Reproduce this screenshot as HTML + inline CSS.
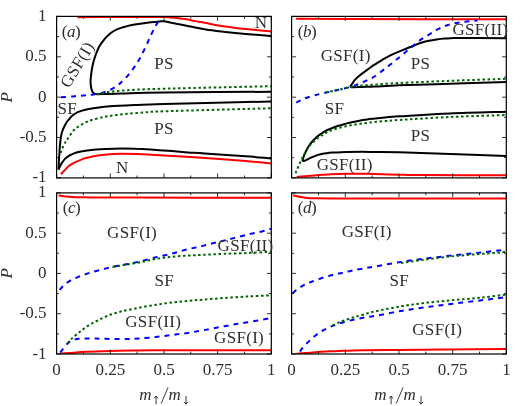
<!DOCTYPE html>
<html><head><meta charset="utf-8"><title>Phase diagrams</title>
<style>
html,body{margin:0;padding:0;background:#fff;}
body{width:528px;height:406px;overflow:hidden;}
svg{display:block;will-change:transform;}
text{font-family:"Liberation Serif",serif;fill:#2e2e2e;}
.t{font-size:17px;}
.l{font-size:17px;letter-spacing:0.3px;}
.i{font-style:italic;}
</style></head><body>
<svg width="528" height="406" viewBox="0 0 528 406">
<rect width="528" height="406" fill="#fff"/>
<defs>
<clipPath id="cpa"><rect x="56.6" y="16.4" width="214.7" height="161.5"/></clipPath>
<clipPath id="cpb"><rect x="291.6" y="16.4" width="214.7" height="161.5"/></clipPath>
<clipPath id="cpc"><rect x="56.6" y="192.9" width="214.7" height="161.1"/></clipPath>
<clipPath id="cpd"><rect x="291.6" y="192.9" width="214.7" height="161.1"/></clipPath>
</defs>
<g clip-path="url(#cpa)" fill="none" stroke-width="2.0" stroke-linejoin="round">
<path d="M77.5 17.2C84.6 17.2 107.9 17.0 120.0 17.0C132.1 17.0 142.7 17.0 150.0 17.0C157.3 17.0 160.7 17.0 164.0 17.1C167.3 17.2 168.2 17.3 170.0 17.4C171.8 17.5 172.1 17.5 174.5 17.8C176.9 18.1 181.6 18.7 184.5 19.1C187.4 19.5 189.6 19.9 192.0 20.4C194.4 20.8 196.7 21.4 199.0 21.8C201.3 22.2 203.3 22.6 206.0 23.1C208.7 23.6 211.9 24.3 215.1 24.9C218.3 25.5 222.0 26.1 225.4 26.6C228.8 27.1 232.2 27.5 235.6 27.9C239.0 28.3 242.4 28.6 245.8 28.9C249.2 29.2 251.8 29.5 256.0 29.9C260.2 30.3 268.8 31.1 271.3 31.4" stroke="#ff0000"/>
<path d="M61.0 174.2C61.6 173.6 63.2 171.7 64.5 170.4C65.8 169.1 67.2 167.4 68.5 166.3C69.8 165.2 71.0 164.4 72.5 163.6C74.0 162.8 75.7 162.0 77.2 161.3C78.8 160.6 80.3 160.0 82.0 159.4C83.7 158.8 84.3 158.4 87.2 157.7C90.2 157.0 95.6 155.9 99.8 155.3C103.9 154.7 108.5 154.4 112.2 154.1C116.0 153.8 117.7 153.7 122.0 153.7C126.3 153.7 130.8 153.8 137.8 154.1C144.8 154.4 152.8 154.9 164.0 155.6C175.2 156.2 191.3 157.1 204.9 158.0C218.5 158.9 234.7 160.1 245.8 161.0C256.9 161.9 267.1 163.1 271.3 163.5" stroke="#ff0000"/>
<path d="M271.3 91.8C253.4 91.9 188.9 92.1 164.0 92.4C139.1 92.7 131.7 93.3 122.0 93.6C112.3 93.9 110.1 93.9 106.0 94.0C101.9 94.1 99.4 94.2 97.5 94.2C95.6 94.2 95.6 94.1 94.8 93.8C93.9 93.4 93.2 92.9 92.6 91.9C92.0 90.9 91.5 89.3 91.2 88.0C90.9 86.7 90.8 85.3 90.7 84.0C90.6 82.7 90.5 81.7 90.6 80.0C90.7 78.3 90.9 76.3 91.2 74.0C91.5 71.7 92.0 68.3 92.5 66.0C93.0 63.7 93.4 62.1 94.0 60.0C94.6 57.9 95.5 55.5 96.2 53.5C97.0 51.5 97.7 49.7 98.5 48.0C99.3 46.3 100.2 45.0 101.2 43.5C102.3 42.0 103.5 40.3 104.7 38.8C106.0 37.3 107.4 36.0 108.8 34.8C110.1 33.5 111.5 32.4 113.0 31.5C114.5 30.6 116.0 29.8 117.5 29.1C119.0 28.5 120.2 28.1 122.0 27.6C123.8 27.1 125.9 26.4 128.0 25.9C130.1 25.4 132.4 25.0 134.7 24.6C137.0 24.2 139.6 23.8 142.0 23.5C144.4 23.2 146.7 22.9 149.0 22.6C151.3 22.3 153.9 22.1 156.0 21.9C158.1 21.7 160.2 21.4 161.5 21.3C162.8 21.2 162.9 21.2 163.6 21.2C164.3 21.2 164.4 21.3 165.5 21.5C166.6 21.7 168.0 22.0 170.0 22.4C172.0 22.8 174.0 23.2 177.7 23.9C181.4 24.6 187.3 25.9 192.0 26.8C196.7 27.7 200.4 28.6 206.0 29.5C211.6 30.4 218.8 31.2 225.4 32.0C232.0 32.8 238.2 33.4 245.8 34.0C253.4 34.6 266.8 35.6 271.0 35.9" stroke="#000"/>
<path d="M58.5 169.6C58.6 168.0 58.8 163.3 59.0 160.0C59.2 156.7 59.4 153.0 59.6 150.0C59.8 147.0 60.0 144.3 60.3 142.0C60.5 139.7 60.8 137.7 61.1 135.9C61.5 134.1 61.9 132.5 62.4 131.0C62.9 129.5 63.5 128.1 64.2 126.7C64.9 125.3 65.7 123.8 66.5 122.5C67.3 121.2 68.3 120.2 69.3 119.0C70.3 117.8 71.3 116.5 72.5 115.5C73.7 114.5 75.0 113.5 76.4 112.8C77.8 112.0 79.3 111.5 81.0 111.0C82.7 110.5 84.0 110.0 86.7 109.5C89.4 109.0 93.0 108.2 96.9 107.7C100.8 107.2 103.2 106.8 110.0 106.3C116.8 105.8 128.8 105.3 137.8 104.9C146.8 104.5 141.8 104.6 164.0 104.0C186.2 103.4 253.4 101.9 271.3 101.5" stroke="#000"/>
<path d="M58.5 169.6C58.8 169.1 59.4 167.5 60.0 166.3C60.6 165.1 61.4 163.6 62.2 162.4C63.1 161.2 64.0 159.9 65.0 158.9C66.0 157.9 67.4 156.9 68.5 156.2C69.6 155.5 70.5 155.0 71.5 154.5C72.5 154.0 73.2 153.6 74.8 153.1C76.3 152.6 77.9 151.9 81.0 151.4C84.1 150.9 89.3 150.2 93.5 149.8C97.7 149.4 101.2 149.1 106.0 148.9C110.8 148.7 117.2 148.6 122.0 148.6C126.8 148.6 130.3 148.6 134.5 148.7C138.7 148.8 142.8 149.1 147.0 149.3C151.2 149.6 155.3 149.9 159.5 150.2C163.7 150.5 167.2 150.7 172.0 151.1C176.8 151.5 182.5 152.0 188.0 152.4C193.5 152.8 195.3 152.8 204.9 153.5C214.5 154.2 234.7 155.5 245.8 156.3C256.9 157.1 267.1 158.1 271.3 158.4" stroke="#000"/>
<path d="M56.6 97.5C57.3 97.5 58.0 97.5 61.0 97.2C64.0 97.0 70.6 96.6 74.8 96.2C78.9 95.9 82.9 95.6 86.0 95.3C89.1 95.0 90.6 94.9 93.5 94.4C96.4 93.9 100.4 93.4 103.5 92.5C106.6 91.6 109.9 89.9 112.2 88.8C114.6 87.6 115.9 86.5 117.4 85.5C118.9 84.5 119.3 84.1 121.0 82.5C122.7 80.9 125.4 78.3 127.6 75.8C129.8 73.3 131.9 70.5 133.9 67.7C135.9 64.9 137.5 62.5 139.5 58.9C141.5 55.3 144.1 50.1 145.9 46.2C147.8 42.4 149.0 39.1 150.6 35.8C152.2 32.5 153.9 29.0 155.4 26.3C156.9 23.6 158.5 21.1 159.4 19.5C160.3 17.9 160.7 17.4 161.0 17.0" stroke="#0000ff" stroke-dasharray="5 5" stroke-dashoffset="5.6"/>
<path d="M96.9 94.3C98.6 94.0 103.7 92.8 107.1 92.2C110.5 91.6 112.3 91.3 117.4 90.9C122.5 90.5 130.0 90.0 137.8 89.6C145.6 89.2 153.6 89.0 164.0 88.7C174.4 88.4 182.1 88.2 200.0 87.8C217.9 87.4 259.4 86.5 271.3 86.2" stroke="#006400" stroke-dasharray="2.5 2.6"/>
<path d="M60.5 153.2C61.0 151.9 62.6 147.5 63.6 145.5C64.5 143.5 65.3 142.4 66.2 141.0C67.1 139.6 67.8 138.6 69.0 136.9C70.2 135.2 72.1 132.3 73.4 130.7C74.7 129.1 75.6 128.5 77.0 127.5C78.4 126.5 80.0 125.5 81.6 124.6C83.2 123.7 84.8 122.8 86.5 122.0C88.2 121.2 89.2 120.8 91.8 120.0C94.4 119.2 99.0 118.1 102.0 117.4C105.0 116.7 105.7 116.5 110.0 115.9C114.3 115.3 121.3 114.4 127.6 113.8C133.9 113.2 141.9 112.6 148.0 112.2C154.1 111.8 143.4 112.0 164.0 111.3C184.6 110.6 253.4 108.8 271.3 108.2" stroke="#006400" stroke-dasharray="2.5 2.6"/>
</g>
<g clip-path="url(#cpb)" fill="none" stroke-width="2.0" stroke-linejoin="round">
<path d="M296.1 18.7C305.1 18.8 314.9 18.9 350.0 19.0C385.1 19.1 480.3 19.2 506.4 19.2" stroke="#ff0000"/>
<path d="M296.6 177.0C298.0 176.9 301.9 176.6 305.0 176.3C308.1 176.0 310.6 175.7 314.9 175.4C319.2 175.1 325.5 174.6 330.8 174.3C336.1 174.0 341.4 173.8 346.7 173.7C352.0 173.6 357.9 173.7 362.6 173.8C367.3 173.9 368.9 173.9 375.0 174.1C381.1 174.2 391.6 174.5 399.0 174.7C406.4 174.9 401.6 175.0 419.5 175.1C437.4 175.2 491.9 175.3 506.4 175.3" stroke="#ff0000"/>
<path d="M506.4 81.9C497.0 82.2 467.9 83.2 450.0 83.8C432.1 84.3 411.5 84.7 399.0 85.2C386.5 85.7 381.2 86.3 375.0 86.6C368.8 86.9 366.0 86.8 362.0 86.9C358.0 87.0 352.6 87.6 351.0 87.0C349.4 86.4 351.8 84.6 352.4 83.5C353.0 82.4 353.7 81.3 354.6 80.2C355.5 79.1 356.7 78.0 357.8 77.0C358.9 76.0 360.0 75.2 361.2 74.3C362.4 73.4 363.5 72.6 365.0 71.5C366.5 70.4 368.3 69.0 370.0 67.8C371.7 66.6 372.8 65.8 375.0 64.4C377.2 63.0 380.4 60.8 383.0 59.3C385.6 57.8 388.2 56.4 390.9 55.1C393.5 53.8 396.2 52.7 398.9 51.6C401.5 50.5 404.1 49.6 406.8 48.5C409.5 47.4 412.3 46.2 414.8 45.2C417.3 44.2 419.6 43.2 422.0 42.5C424.4 41.8 426.6 41.3 429.0 40.8C431.4 40.3 433.9 39.9 436.6 39.5C439.3 39.1 442.1 38.8 445.0 38.6C447.9 38.4 448.4 38.2 453.9 38.1C459.3 38.0 468.9 38.0 477.7 38.0C486.4 38.0 501.6 38.2 506.4 38.3" stroke="#000"/>
<path d="M302.3 161.0C302.5 160.4 303.0 158.7 303.4 157.5C303.8 156.3 304.2 155.2 304.8 153.8C305.4 152.4 306.1 150.8 306.9 149.3C307.7 147.8 308.6 146.3 309.5 145.0C310.4 143.7 311.4 142.4 312.5 141.2C313.6 140.0 314.7 138.9 315.8 137.9C316.9 136.9 318.1 135.8 319.4 134.9C320.6 134.0 322.0 133.1 323.3 132.3C324.6 131.5 325.9 130.7 327.4 130.0C328.9 129.3 330.5 128.7 332.4 128.0C334.2 127.3 336.4 126.5 338.5 125.8C340.6 125.1 342.9 124.5 345.1 123.9C347.4 123.3 349.6 122.7 352.0 122.2C354.4 121.7 356.9 121.2 359.4 120.7C361.9 120.2 364.4 119.9 367.0 119.5C369.6 119.1 371.7 118.9 375.0 118.5C378.3 118.1 383.0 117.6 387.0 117.2C391.0 116.8 388.5 116.9 399.0 116.3C409.5 115.7 432.2 114.2 450.1 113.4C468.0 112.6 497.0 112.0 506.4 111.7" stroke="#000"/>
<path d="M302.3 161.0C302.6 161.0 303.3 161.1 303.8 161.0C304.3 160.9 304.7 160.8 305.5 160.4C306.3 160.1 307.4 159.4 308.5 158.9C309.6 158.4 310.8 157.8 312.0 157.2C313.2 156.6 314.6 156.1 316.0 155.6C317.4 155.1 318.8 154.7 320.5 154.3C322.2 153.9 324.1 153.6 326.0 153.3C327.9 153.0 328.6 152.8 332.0 152.6C335.4 152.4 341.6 152.0 346.7 151.9C351.8 151.8 357.9 151.8 362.6 151.8C367.3 151.8 368.9 151.9 375.0 152.0C381.1 152.1 386.5 152.0 399.0 152.3C411.5 152.6 432.2 153.3 450.1 153.9C468.0 154.5 497.0 155.6 506.4 155.9" stroke="#000"/>
<path d="M291.6 105.2C292.5 104.8 295.0 103.4 296.6 102.5C298.2 101.6 299.8 100.8 301.5 100.0C303.2 99.2 304.8 98.5 306.9 97.7C309.0 97.0 311.4 96.2 314.0 95.5C316.6 94.8 318.7 94.2 322.8 93.3C326.9 92.3 334.1 90.9 338.7 89.8C343.3 88.7 347.6 87.8 350.7 86.9C353.8 86.0 355.0 85.4 357.0 84.6C359.0 83.8 360.7 83.1 362.6 82.3C364.5 81.5 366.5 80.6 368.5 79.6C370.5 78.6 371.9 78.2 374.5 76.5C377.1 74.8 380.9 71.8 384.1 69.4C387.3 67.0 390.4 64.6 393.6 62.0C396.8 59.4 400.0 56.7 403.2 54.0C406.4 51.3 409.5 48.6 412.7 46.0C415.9 43.4 419.1 40.8 422.3 38.6C425.5 36.4 429.4 34.4 431.8 32.9C434.2 31.4 435.2 30.6 437.0 29.6C438.8 28.6 440.9 27.8 442.7 27.0C444.5 26.2 446.1 25.6 448.0 25.0C449.9 24.4 451.1 23.9 453.9 23.4C456.7 22.8 461.1 22.2 465.0 21.7C468.9 21.2 475.4 20.8 477.5 20.6" stroke="#0000ff" stroke-dasharray="5 5" stroke-dashoffset="4.8"/>
<path d="M325.2 92.6C327.4 92.1 334.4 90.8 338.7 89.8C342.9 88.8 346.7 87.6 350.7 86.9C354.7 86.2 358.6 86.0 362.6 85.6C366.7 85.2 368.9 85.0 375.0 84.6C381.1 84.2 386.5 83.6 399.0 83.0C411.5 82.4 432.1 81.5 450.0 80.8C467.9 80.1 497.0 79.1 506.4 78.8" stroke="#006400" stroke-dasharray="2.5 2.6"/>
<path d="M295.6 173.3C295.7 172.9 295.8 172.5 296.4 171.0C297.0 169.5 298.3 166.4 299.4 164.1C300.5 161.8 301.8 158.9 302.8 157.0C303.8 155.1 304.4 154.0 305.3 152.5C306.2 151.0 306.9 149.7 308.0 148.2C309.1 146.7 310.3 144.9 311.6 143.5C312.9 142.1 314.7 140.6 316.0 139.5C317.3 138.4 318.3 137.5 319.6 136.7C320.9 135.8 322.3 135.2 323.6 134.4C324.9 133.6 325.9 132.8 327.4 132.0C328.9 131.2 330.5 130.6 332.4 129.9C334.2 129.2 336.4 128.6 338.5 128.0C340.6 127.4 342.9 126.9 345.1 126.4C347.4 125.9 349.6 125.5 352.0 125.1C354.4 124.7 356.9 124.3 359.4 123.9C361.9 123.5 364.4 123.2 367.0 122.9C369.6 122.6 371.7 122.3 375.0 122.0C378.3 121.7 383.0 121.2 387.0 120.9C391.0 120.6 388.5 120.7 399.0 120.0C409.5 119.3 432.2 117.8 450.1 117.0C468.0 116.2 497.0 115.3 506.4 115.0" stroke="#006400" stroke-dasharray="2.5 2.6"/>
</g>
<g clip-path="url(#cpc)" fill="none" stroke-width="2.0" stroke-linejoin="round">
<path d="M58.5 195.4C59.4 195.5 61.8 195.9 64.0 196.2C66.2 196.4 68.4 196.7 71.9 196.9C75.4 197.1 79.7 197.2 85.0 197.3C90.3 197.4 94.5 197.6 103.7 197.6C112.9 197.6 124.0 197.6 140.0 197.6C156.1 197.6 178.1 197.7 200.0 197.7C221.9 197.7 259.4 197.8 271.3 197.8" stroke="#ff0000"/>
<path d="M60.5 353.6C62.1 353.5 65.6 353.2 70.0 352.9C74.4 352.6 78.8 352.2 86.7 351.8C94.6 351.4 104.5 350.9 117.4 350.7C130.3 350.4 138.4 350.4 164.0 350.3C189.6 350.2 253.2 350.3 271.0 350.3" stroke="#ff0000"/>
<path d="M56.6 294.0C57.3 293.1 59.4 290.1 60.8 288.5C62.2 286.9 63.4 285.7 65.0 284.4C66.6 283.1 68.6 281.6 70.3 280.6C72.0 279.6 73.4 278.9 75.0 278.2C76.6 277.5 77.5 277.2 79.9 276.3C82.3 275.4 86.2 273.9 89.4 272.9C92.6 271.9 95.5 271.1 99.0 270.2C102.5 269.3 106.7 268.2 110.1 267.4C113.5 266.6 116.4 266.1 119.6 265.5C122.8 264.9 125.8 264.6 129.2 263.9C132.6 263.2 135.6 262.5 140.0 261.4C144.4 260.3 150.6 258.6 155.9 257.3C161.2 256.0 166.5 254.9 171.8 253.6C177.1 252.3 182.4 250.6 187.7 249.3C193.0 248.0 198.3 246.9 203.6 245.6C208.9 244.3 214.8 242.9 219.5 241.7C224.2 240.5 227.1 239.8 231.8 238.6C236.5 237.4 242.4 235.9 247.7 234.6C253.0 233.3 259.7 232.0 263.6 231.0C267.5 230.0 270.0 229.2 271.3 228.8" stroke="#0000ff" stroke-dasharray="5 5" stroke-dashoffset="5"/>
<path d="M60.2 352.6C60.3 352.5 60.0 352.7 60.8 351.7C61.6 350.7 63.6 348.2 64.9 346.6C66.2 345.0 67.6 343.3 68.7 342.3C69.8 341.3 70.8 341.0 71.8 340.5C72.8 340.0 73.9 339.7 75.0 339.4C76.1 339.1 77.3 338.8 78.5 338.7C79.7 338.6 79.1 338.5 82.0 338.5C84.9 338.5 90.8 338.5 95.8 338.6C100.8 338.7 106.4 338.9 111.7 339.0C117.0 339.1 122.9 339.1 127.6 339.0C132.3 338.9 135.3 338.7 140.0 338.4C144.7 338.1 150.6 337.6 155.9 337.0C161.2 336.4 166.5 335.7 171.8 335.0C177.1 334.3 182.4 333.7 187.7 332.9C193.0 332.1 197.5 331.3 203.6 330.2C209.7 329.1 217.0 327.5 224.0 326.2C231.0 324.9 237.9 324.0 245.8 322.6C253.7 321.2 267.1 318.8 271.3 318.0" stroke="#0000ff" stroke-dasharray="5 5"/>
<path d="M112.5 267.0C114.6 266.6 120.4 265.6 125.0 264.8C129.6 264.0 134.8 263.3 140.0 262.3C145.2 261.3 150.6 259.8 155.9 258.9C161.2 258.0 166.5 257.4 171.8 256.8C177.1 256.2 182.4 255.9 187.7 255.6C193.0 255.3 197.5 255.1 203.6 254.8C209.7 254.5 216.7 254.1 224.0 253.8C231.3 253.5 239.8 253.3 247.7 253.0C255.6 252.7 267.4 251.9 271.3 251.7" stroke="#006400" stroke-dasharray="2.5 2.6"/>
<path d="M67.9 343.4C68.3 342.8 69.6 341.1 70.5 340.0C71.4 338.9 71.9 338.4 73.5 337.0C75.1 335.6 77.5 333.7 79.9 331.8C82.3 329.9 85.2 327.6 87.8 325.9C90.4 324.2 93.1 322.9 95.8 321.5C98.5 320.1 101.0 318.7 103.7 317.5C106.4 316.3 109.1 315.2 111.7 314.3C114.3 313.4 116.9 312.6 119.6 311.9C122.2 311.2 124.2 310.7 127.6 310.0C131.0 309.3 135.3 308.4 140.0 307.5C144.7 306.6 150.6 305.6 155.9 304.8C161.2 304.0 166.5 303.1 171.8 302.5C177.1 301.9 182.4 301.4 187.7 300.9C193.0 300.4 197.5 300.1 203.6 299.6C209.7 299.1 216.7 298.5 224.0 298.0C231.3 297.5 239.8 296.9 247.7 296.5C255.6 296.1 267.4 295.5 271.3 295.3" stroke="#006400" stroke-dasharray="2.5 2.6"/>
</g>
<g clip-path="url(#cpd)" fill="none" stroke-width="2.0" stroke-linejoin="round">
<path d="M293.2 195.2C293.8 195.4 295.7 195.9 297.0 196.2C298.3 196.5 299.4 196.8 301.0 197.1C302.6 197.4 304.5 197.7 306.8 197.9C309.1 198.1 311.1 198.2 315.0 198.3C318.9 198.4 316.0 198.4 330.0 198.4C344.0 198.4 369.6 198.4 399.0 198.4C428.4 198.4 488.5 198.4 506.4 198.4" stroke="#ff0000"/>
<path d="M295.8 353.9C297.3 353.8 301.8 353.4 305.0 353.1C308.2 352.8 311.4 352.6 314.9 352.3C318.4 352.0 322.0 351.7 326.0 351.5C330.0 351.3 332.6 351.1 338.7 350.9C344.8 350.7 352.6 350.4 362.6 350.2C372.7 350.0 384.4 350.0 399.0 349.9C413.6 349.8 432.1 349.6 450.0 349.5C467.9 349.4 497.0 349.2 506.4 349.1" stroke="#ff0000"/>
<path d="M291.6 294.5C291.8 294.3 291.7 294.1 292.6 293.3C293.5 292.5 295.4 290.7 297.0 289.5C298.6 288.3 300.5 287.1 302.1 286.1C303.7 285.1 305.1 284.4 306.7 283.7C308.3 283.0 309.3 282.6 311.7 281.7C314.1 280.8 317.8 279.3 321.2 278.2C324.6 277.1 328.9 275.9 332.4 275.0C335.8 274.1 338.7 273.6 341.9 272.9C345.1 272.2 348.1 271.4 351.5 270.7C354.9 270.0 358.7 269.3 362.6 268.6C366.5 267.9 368.6 267.6 375.0 266.5C381.4 265.4 392.5 263.3 401.3 261.9C410.1 260.5 418.8 259.4 427.6 258.3C436.4 257.2 445.1 256.2 453.9 255.2C462.7 254.2 471.6 253.4 480.3 252.5C489.1 251.6 502.0 250.1 506.4 249.6" stroke="#0000ff" stroke-dasharray="5 5" stroke-dashoffset="8.5"/>
<path d="M300.0 351.6C300.3 351.2 300.8 350.2 301.6 349.2C302.4 348.1 303.8 346.6 305.0 345.3C306.2 344.0 307.4 342.8 308.7 341.6C309.9 340.4 311.2 339.1 312.5 338.0C313.8 336.9 315.2 335.7 316.5 334.7C317.8 333.7 319.2 332.7 320.5 331.9C321.8 331.1 323.0 330.4 324.4 329.7C325.8 328.9 327.4 328.1 329.0 327.4C330.6 326.7 331.6 326.3 334.0 325.4C336.4 324.5 340.1 323.2 343.5 322.2C346.9 321.2 351.2 320.3 354.6 319.5C358.1 318.7 360.8 318.1 364.2 317.5C367.6 316.9 368.8 317.0 375.0 315.9C381.2 314.8 392.5 312.4 401.3 310.9C410.1 309.4 418.8 308.2 427.6 307.0C436.4 305.8 445.1 304.7 453.9 303.6C462.7 302.5 472.4 301.4 480.3 300.4C488.2 299.4 497.0 298.4 501.3 297.8C505.6 297.2 505.5 297.2 506.4 297.1" stroke="#0000ff" stroke-dasharray="5 5"/>
<path d="M401.0 263.0C409.2 261.9 432.5 258.3 450.1 256.5C467.7 254.7 497.0 252.8 506.4 252.0" stroke="#006400" stroke-dasharray="2.5 2.6"/>
<path d="M332.7 325.4C333.6 325.0 336.2 323.7 338.0 322.9C339.8 322.1 341.0 321.6 343.5 320.7C346.0 319.8 349.8 318.5 353.0 317.5C356.2 316.5 358.9 315.8 362.6 314.8C366.3 313.8 368.6 312.8 375.0 311.4C381.4 310.0 392.5 307.8 401.3 306.3C410.1 304.8 418.8 303.7 427.6 302.6C436.4 301.6 445.1 300.8 453.9 300.0C462.7 299.2 471.6 298.7 480.3 297.8C489.1 296.9 502.0 295.1 506.4 294.5" stroke="#006400" stroke-dasharray="2.5 2.6"/>
</g>
<g stroke="#000" stroke-width="1.2" fill="none">
<rect x="56.6" y="16.4" width="214.7" height="161.5"/>
<path d="M56.6 177.9v-4.4M56.6 16.4v4.4M83.4 177.9v-2.4M83.4 16.4v2.4M110.3 177.9v-4.4M110.3 16.4v4.4M137.1 177.9v-2.4M137.1 16.4v2.4M164.0 177.9v-4.4M164.0 16.4v4.4M190.8 177.9v-2.4M190.8 16.4v2.4M217.6 177.9v-4.4M217.6 16.4v4.4M244.5 177.9v-2.4M244.5 16.4v2.4M271.3 177.9v-4.4M271.3 16.4v4.4M56.6 16.4h4.4M271.3 16.4h-4.4M56.6 36.6h2.4M271.3 36.6h-2.4M56.6 56.8h4.4M271.3 56.8h-4.4M56.6 77.0h2.4M271.3 77.0h-2.4M56.6 97.2h4.4M271.3 97.2h-4.4M56.6 117.3h2.4M271.3 117.3h-2.4M56.6 137.5h4.4M271.3 137.5h-4.4M56.6 157.7h2.4M271.3 157.7h-2.4M56.6 177.9h4.4M271.3 177.9h-4.4" stroke-width="0.8"/>
</g>
<g stroke="#000" stroke-width="1.2" fill="none">
<rect x="291.6" y="16.4" width="214.7" height="161.5"/>
<path d="M291.6 177.9v-4.4M291.6 16.4v4.4M318.5 177.9v-2.4M318.5 16.4v2.4M345.3 177.9v-4.4M345.3 16.4v4.4M372.2 177.9v-2.4M372.2 16.4v2.4M399.0 177.9v-4.4M399.0 16.4v4.4M425.8 177.9v-2.4M425.8 16.4v2.4M452.7 177.9v-4.4M452.7 16.4v4.4M479.5 177.9v-2.4M479.5 16.4v2.4M506.4 177.9v-4.4M506.4 16.4v4.4M291.6 16.4h4.4M506.4 16.4h-4.4M291.6 36.6h2.4M506.4 36.6h-2.4M291.6 56.8h4.4M506.4 56.8h-4.4M291.6 77.0h2.4M506.4 77.0h-2.4M291.6 97.2h4.4M506.4 97.2h-4.4M291.6 117.3h2.4M506.4 117.3h-2.4M291.6 137.5h4.4M506.4 137.5h-4.4M291.6 157.7h2.4M506.4 157.7h-2.4M291.6 177.9h4.4M506.4 177.9h-4.4" stroke-width="0.8"/>
</g>
<g stroke="#000" stroke-width="1.2" fill="none">
<rect x="56.6" y="192.9" width="214.7" height="161.1"/>
<path d="M56.6 354.0v-4.4M56.6 192.9v4.4M83.4 354.0v-2.4M83.4 192.9v2.4M110.3 354.0v-4.4M110.3 192.9v4.4M137.1 354.0v-2.4M137.1 192.9v2.4M164.0 354.0v-4.4M164.0 192.9v4.4M190.8 354.0v-2.4M190.8 192.9v2.4M217.6 354.0v-4.4M217.6 192.9v4.4M244.5 354.0v-2.4M244.5 192.9v2.4M271.3 354.0v-4.4M271.3 192.9v4.4M56.6 192.9h4.4M271.3 192.9h-4.4M56.6 213.0h2.4M271.3 213.0h-2.4M56.6 233.2h4.4M271.3 233.2h-4.4M56.6 253.3h2.4M271.3 253.3h-2.4M56.6 273.4h4.4M271.3 273.4h-4.4M56.6 293.6h2.4M271.3 293.6h-2.4M56.6 313.7h4.4M271.3 313.7h-4.4M56.6 333.9h2.4M271.3 333.9h-2.4M56.6 354.0h4.4M271.3 354.0h-4.4" stroke-width="0.8"/>
</g>
<g stroke="#000" stroke-width="1.2" fill="none">
<rect x="291.6" y="192.9" width="214.7" height="161.1"/>
<path d="M291.6 354.0v-4.4M291.6 192.9v4.4M318.5 354.0v-2.4M318.5 192.9v2.4M345.3 354.0v-4.4M345.3 192.9v4.4M372.2 354.0v-2.4M372.2 192.9v2.4M399.0 354.0v-4.4M399.0 192.9v4.4M425.8 354.0v-2.4M425.8 192.9v2.4M452.7 354.0v-4.4M452.7 192.9v4.4M479.5 354.0v-2.4M479.5 192.9v2.4M506.4 354.0v-4.4M506.4 192.9v4.4M291.6 192.9h4.4M506.4 192.9h-4.4M291.6 213.0h2.4M506.4 213.0h-2.4M291.6 233.2h4.4M506.4 233.2h-4.4M291.6 253.3h2.4M506.4 253.3h-2.4M291.6 273.4h4.4M506.4 273.4h-4.4M291.6 293.6h2.4M506.4 293.6h-2.4M291.6 313.7h4.4M506.4 313.7h-4.4M291.6 333.9h2.4M506.4 333.9h-2.4M291.6 354.0h4.4M506.4 354.0h-4.4" stroke-width="0.8"/>
</g>
<text x="46.6" y="20.9" class="t" text-anchor="end">1</text>
<text x="46.6" y="61.3" class="t" text-anchor="end">0.5</text>
<text x="46.6" y="101.7" class="t" text-anchor="end">0</text>
<text x="46.6" y="142.0" class="t" text-anchor="end">-0.5</text>
<text x="46.6" y="182.4" class="t" text-anchor="end">-1</text>
<text x="46.6" y="197.4" class="t" text-anchor="end">1</text>
<text x="46.6" y="237.7" class="t" text-anchor="end">0.5</text>
<text x="46.6" y="277.9" class="t" text-anchor="end">0</text>
<text x="46.6" y="318.2" class="t" text-anchor="end">-0.5</text>
<text x="46.6" y="358.5" class="t" text-anchor="end">-1</text>
<text x="56.6" y="375.2" class="t" text-anchor="middle">0</text>
<text x="110.3" y="375.2" class="t" text-anchor="middle">0.25</text>
<text x="164.0" y="375.2" class="t" text-anchor="middle">0.5</text>
<text x="217.6" y="375.2" class="t" text-anchor="middle">0.75</text>
<text x="271.3" y="375.2" class="t" text-anchor="middle">1</text>
<text x="291.6" y="375.2" class="t" text-anchor="middle">0</text>
<text x="345.3" y="375.2" class="t" text-anchor="middle">0.25</text>
<text x="399.0" y="375.2" class="t" text-anchor="middle">0.5</text>
<text x="452.7" y="375.2" class="t" text-anchor="middle">0.75</text>
<text x="506.4" y="375.2" class="t" text-anchor="middle">1</text>
<text class="i" font-size="17" text-anchor="middle" transform="translate(12.2 97.2) rotate(-90)">P</text>
<text class="i" font-size="17" text-anchor="middle" transform="translate(12.2 273.4) rotate(-90)">P</text>
<g transform="translate(0.2 0)">
<text class="i" font-size="17" x="139.0" y="399.8">m</text>
<text class="i" font-size="17" x="168.3" y="399.8">m</text>
<path d="M167.9 387.3L161.0 403.6" stroke="#2e2e2e" stroke-width="0.9" fill="none"/>
<path d="M155.9 404.3V396.2M153.9 398.4L155.9 396.0L157.9 398.4" stroke="#222" stroke-width="0.9" fill="none"/>
<path d="M185.8 395.9V404.0M183.8 401.8L185.8 404.2L187.8 401.8" stroke="#222" stroke-width="0.9" fill="none"/>
</g>
<g transform="translate(235.2 0)">
<text class="i" font-size="17" x="139.0" y="399.8">m</text>
<text class="i" font-size="17" x="168.3" y="399.8">m</text>
<path d="M167.9 387.3L161.0 403.6" stroke="#2e2e2e" stroke-width="0.9" fill="none"/>
<path d="M155.9 404.3V396.2M153.9 398.4L155.9 396.0L157.9 398.4" stroke="#222" stroke-width="0.9" fill="none"/>
<path d="M185.8 395.9V404.0M183.8 401.8L185.8 404.2L187.8 401.8" stroke="#222" stroke-width="0.9" fill="none"/>
</g>
<text x="61.8" y="36.6" font-size="17" letter-spacing="-0.5">(<tspan class="i">a</tspan>)</text>
<text x="297.8" y="36.6" font-size="17" letter-spacing="-0.5">(<tspan class="i">b</tspan>)</text>
<text x="62.8" y="213.0" font-size="17" letter-spacing="-0.5">(<tspan class="i">c</tspan>)</text>
<text x="297.8" y="213.0" font-size="17" letter-spacing="-0.5">(<tspan class="i">d</tspan>)</text>
<text x="154.2" y="68.6" class="l">PS</text>
<text x="154.2" y="133.5" class="l">PS</text>
<text x="57.6" y="114.2" class="l">SF</text>
<text x="254.8" y="28.3" class="l">N</text>
<text x="115.9" y="173.0" class="l">N</text>
<text class="l" transform="translate(69.0 89.0) rotate(-59)">GSF(I)</text>
<text x="320.7" y="61.2" class="l">GSF(I)</text>
<text x="410.8" y="68.9" class="l">PS</text>
<text x="410.8" y="141.4" class="l">PS</text>
<text x="324.7" y="114.2" class="l">SF</text>
<text x="452.4" y="35.0" class="l">GSF(II)</text>
<text x="316.7" y="169.5" class="l">GSF(II)</text>
<text x="107.1" y="238.4" class="l">GSF(I)</text>
<text x="217.6" y="250.6" class="l">GSF(II)</text>
<text x="154.5" y="286.0" class="l">SF</text>
<text x="125.3" y="327.3" class="l">GSF(II)</text>
<text x="214.1" y="343.2" class="l">GSF(I)</text>
<text x="341.7" y="237.4" class="l">GSF(I)</text>
<text x="389.5" y="286.0" class="l">SF</text>
<text x="412.3" y="334.8" class="l">GSF(I)</text>
</svg>
</body></html>
